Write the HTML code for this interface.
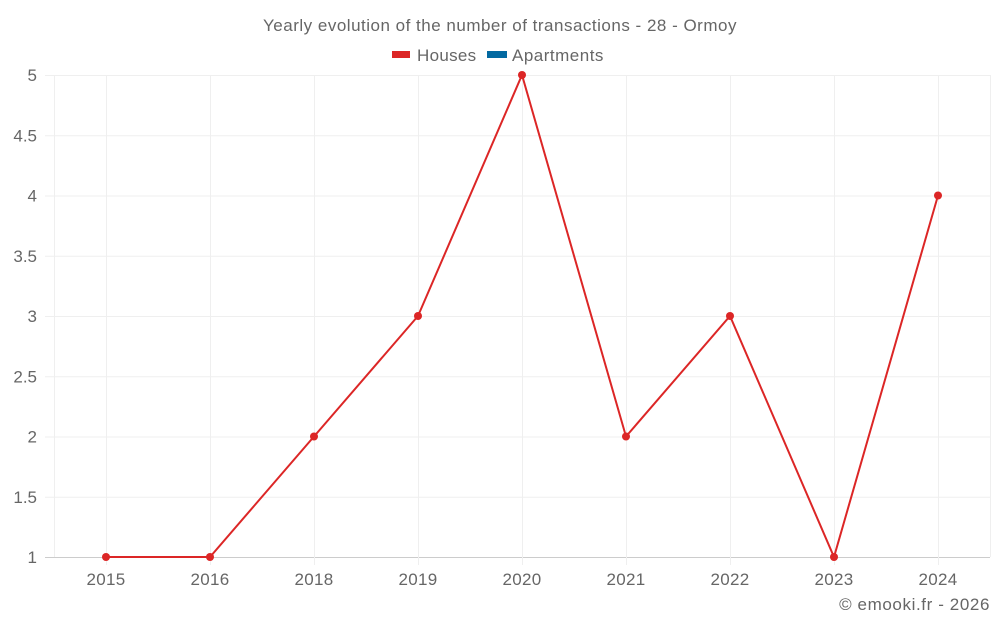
<!DOCTYPE html>
<html><head><meta charset="utf-8"><style>
body{margin:0;background:#fff;font-family:"Liberation Sans",sans-serif;}
svg text{font-family:"Liberation Sans",sans-serif;fill:#666;}
</style></head><body>
<svg id="chart" width="1000" height="625">
<text x="500" y="31" text-anchor="middle" font-size="17" letter-spacing="0.5">Yearly evolution of the number of transactions - 28 - Ormoy</text>
<g>
<g><rect x="392" y="51" width="18" height="7" fill="#dc2626"/><text x="417" y="61" font-size="17" letter-spacing="0.3">Houses</text></g>
<g><rect x="487" y="51" width="20" height="7" fill="#0369a1"/><text x="512" y="61" font-size="17" letter-spacing="0.5">Apartments</text></g>
</g>
<g id="grid"></g>
<g id="axes"></g>
<g id="series"></g>
<text x="990" y="610" text-anchor="end" font-size="17" letter-spacing="0.6">© emooki.fr - 2026</text>
</svg>
<script>
const categories=["2015","2016","2018","2019","2020","2021","2022","2023","2024"];
const houses=[1,1,2,3,5,2,3,1,4];
const yTicks=[1,1.5,2,2.5,3,3.5,4,4.5,5];
const NS="http://www.w3.org/2000/svg";
const L=54,R=990,T=75,B=557,yMin=1,yMax=5;
const bw=(R-L)/categories.length;
const x=i=>L+bw*(i+0.5);
const y=v=>B-(v-yMin)/(yMax-yMin)*(B-T);
function mk(tag,attrs,parent){const e=document.createElementNS(NS,tag);for(const k in attrs)e.setAttribute(k,attrs[k]);parent.appendChild(e);return e;}
const grid=document.getElementById('grid'),axes=document.getElementById('axes'),series=document.getElementById('series');
yTicks.forEach(t=>{
 const ln=mk('line',{x1:45,x2:R,y1:y(t)+0.5,y2:y(t)+0.5,stroke:t===yMin?'#ccc':'#efefef','stroke-width':1},grid);
 
 
 const tx=mk('text',{x:37,y:y(t)+6,'text-anchor':'end','font-size':17},axes);
 tx.textContent=t;
 
 
});
[L,R].forEach(px=>{const ln=mk('line',{x1:px+0.5,x2:px+0.5,y1:T,y2:B,stroke:'#efefef'},grid);
 
 });
categories.forEach((c,i)=>{
 const ln=mk('line',{x1:x(i)+0.5,x2:x(i)+0.5,y1:T,y2:B+8,stroke:'#efefef'},grid);
 
 
 const tx=mk('text',{x:x(i),y:585,'text-anchor':'middle','font-size':17,'letter-spacing':0.3},axes);
 tx.textContent=c;
 
 
});
const pl=mk('polyline',{points:houses.map((v,i)=>x(i)+','+y(v)).join(' '),fill:'none',stroke:'#dc2626','stroke-width':2},series);


houses.forEach((v,i)=>{const c=mk('circle',{cx:x(i),cy:y(v),r:4,fill:'#dc2626'},series);
 
 });
</script>
</body></html>
